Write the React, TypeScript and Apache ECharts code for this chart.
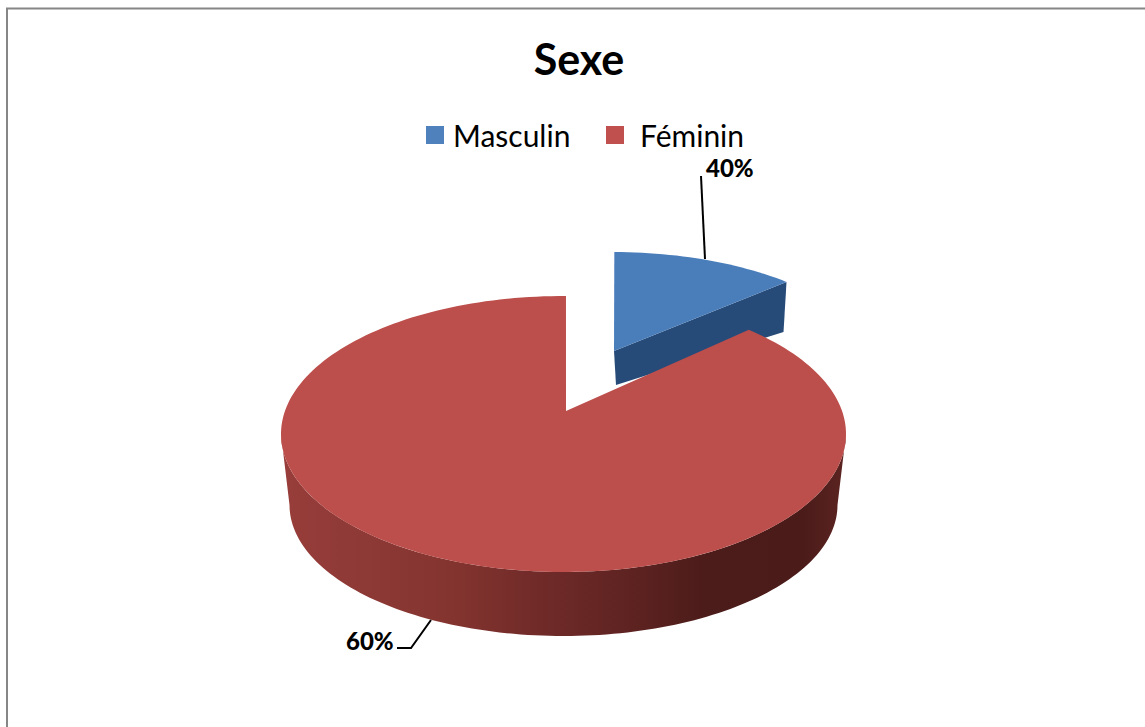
import React, { useEffect, useRef } from "react";
import * as echarts from "echarts";

const titleText = "Sexe";
const categories = ["Masculin", "Féminin"];
// Share of the drawn disc (the printed labels differ, as in the original).
const masculinDrawnShare = [11.25];
const femininDrawnShare = [88.75];
const percentLabels = ["40%", "60%"];

const FONT = "Lato, Carlito, Calibri, sans-serif";
const START = 0.5;

type Ell = { cx: number; cy: number; rx: number; ry: number };
const pt = (e: Ell, deg: number): number[] => {
  const a = (deg * Math.PI) / 180;
  return [e.cx + e.rx * Math.sin(a), e.cy - e.ry * Math.cos(a)];
};
const arc = (e: Ell, from: number, to: number): number[][] => {
  const out: number[][] = [];
  const n = Math.max(2, Math.ceil(Math.abs(to - from) / 1.5));
  for (let i = 0; i <= n; i++) out.push(pt(e, from + ((to - from) * i) / n));
  return out;
};

const leaderStyle = { stroke: "#000", lineWidth: 2, fill: "none" };
const labelStyle = { fontFamily: FONT, fontSize: 24, fontWeight: 900, fill: "#000" };

const blueTop: Ell = { cx: 612, cy: 374, rx: 266, ry: 122 };
const blueApex = [614, 351];
const blueApexLow = [616, 385];
const redTop: Ell = { cx: 563.5, cy: 434, rx: 282.5, ry: 138 };
const redBottom: Ell = { cx: 563.5, cy: 505, rx: 274, ry: 131 };
const redApex = [566, 411];

const renderMasculin = (_: any, api: any) => {
  const span = (api.value(0) / 100) * 360;
  const end = START + span;
  const top = arc(blueTop, START, end);
  const corner = top[top.length - 1];
  return {
    type: "group",
    children: [
      {
        type: "polygon",
        shape: { points: [blueApex, corner, [corner[0] - 3, corner[1] + 50], blueApexLow] },
        style: { fill: "#274b79" },
      },
      {
        type: "polygon",
        shape: { points: [blueApex, ...top] },
        style: { fill: "#4a7ebb" },
      },
      {
        type: "polyline",
        shape: { points: [[701, 176], [705, 259]] },
        style: leaderStyle,
      },
      {
        type: "text",
        x: 706,
        y: 167,
        style: { ...labelStyle, text: percentLabels[0], align: "left", verticalAlign: "middle" },
      },
    ],
  };
};

const renderFeminin = (_: any, api: any) => {
  const span = (api.value(0) / 100) * 360;
  const start = START + 360 - span;
  const wall = [...arc(redTop, 90, 270), ...arc(redBottom, 270, 90)];
  return {
    type: "group",
    children: [
      {
        type: "polygon",
        shape: { points: wall },
        style: {
          fill: new echarts.graphic.LinearGradient(0, 0, 1, 0, [
            { offset: 0, color: "#983d3a" },
            { offset: 0.12, color: "#8f3a37" },
            { offset: 0.3, color: "#84342f" },
            { offset: 0.45, color: "#712b29" },
            { offset: 0.62, color: "#5e2321" },
            { offset: 0.75, color: "#4c1c1a" },
            { offset: 0.92, color: "#4a1b19" },
            { offset: 1, color: "#5c2421" },
          ]),
        },
      },
      {
        type: "polygon",
        shape: { points: [redApex, ...arc(redTop, start, START + 360)] },
        style: { fill: "#bc4e4b" },
      },
      {
        type: "polyline",
        shape: { points: [[397, 648], [411, 648], [431, 620]] },
        style: leaderStyle,
      },
      {
        type: "text",
        x: 346,
        y: 640,
        style: { ...labelStyle, text: percentLabels[1], align: "left", verticalAlign: "middle" },
      },
    ],
  };
};

export default function App() {
  const ref = useRef<HTMLDivElement>(null);
  useEffect(() => {
    const chart = echarts.init(ref.current!, undefined, { renderer: "svg" });
    const legendBase = {
      orient: "horizontal",
      top: 120,
      padding: 0,
      icon: "rect",
      itemWidth: 18,
      itemHeight: 18,
      selectedMode: false,
    };
    chart.setOption({
      animation: false,
      backgroundColor: "#fff",
      title: {
        text: titleText,
        left: 579,
        textAlign: "center",
        top: 37,
        padding: 0,
        textStyle: { fontFamily: FONT, fontSize: 43, fontWeight: "bold", color: "#000" },
      },
      legend: [
        {
          ...legendBase,
          left: 426,
          data: [categories[0]],
          textStyle: { fontFamily: FONT, fontSize: 30, color: "#000", padding: [0, 0, 0, 4] },
        },
        {
          ...legendBase,
          left: 606,
          data: [categories[1]],
          textStyle: { fontFamily: FONT, fontSize: 30, color: "#000", padding: [0, 0, 0, 11] },
        },
      ],
      graphic: [
        { type: "line", shape: { x1: 7, y1: 8, x2: 7, y2: 727 }, style: { stroke: "#868686", lineWidth: 2 } },
        { type: "line", shape: { x1: 6, y1: 8.5, x2: 1145, y2: 8.5 }, style: { stroke: "#868686", lineWidth: 2 } },
      ],
      series: [
        {
          type: "custom",
          name: categories[0],
          coordinateSystem: "none",
          itemStyle: { color: "#4f81bd" },
          renderItem: renderMasculin,
          data: masculinDrawnShare.map((v) => [v]),
          z: 2,
        },
        {
          type: "custom",
          name: categories[1],
          coordinateSystem: "none",
          itemStyle: { color: "#c0504d" },
          renderItem: renderFeminin,
          data: femininDrawnShare.map((v) => [v]),
          z: 3,
        },
      ],
    });
    return () => chart.dispose();
  }, []);
  return <div ref={ref} style={{ position: "fixed", left: 0, top: 0, width: 1145, height: 727 }} />;
}
